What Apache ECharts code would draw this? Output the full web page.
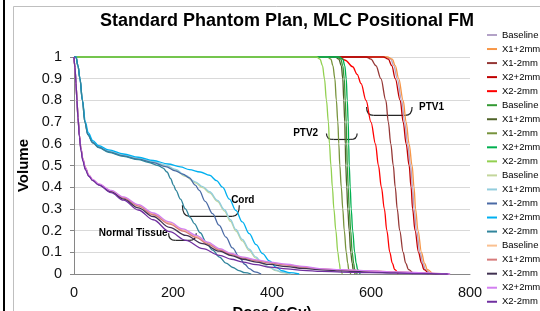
<!DOCTYPE html>
<html>
<head>
<meta charset="utf-8">
<script src="https://cdn.jsdelivr.net/npm/echarts@6/dist/echarts.min.js"></script>
<style>
html, body { margin: 0; padding: 0; background: #fff; }
#chart { width: 540px; height: 311px; }
</style>
</head>
<body>
<div id="chart"></div>
<script>
// dose (cGy), volume fraction pairs
const ptv1Baseline = [[0,1],[630,1],[640,0.99],[646,0.96],[653,0.9],[662,0.8],[668,0.7],[674,0.6],[680,0.5],[684,0.4],[687,0.3],[692,0.2],[699,0.1],[705,0.05],[710,0.02],[720,0]];
const ptv1X1p = [[0,1],[633,1],[643,0.99],[649,0.96],[656,0.9],[665,0.8],[671,0.7],[677,0.6],[683,0.5],[687,0.4],[690,0.3],[695,0.2],[702,0.1],[708,0.05],[714,0.02],[724,0]];
const ptv1X1m = [[0,1],[590,1],[600,0.99],[610,0.96],[620,0.9],[630,0.8],[635,0.7],[640,0.6],[645,0.5],[649,0.4],[653,0.3],[658,0.2],[665,0.1],[670,0.05],[676,0.02],[685,0]];
const ptv1X2p = [[0,1],[625,1],[635,0.99],[642,0.96],[649,0.9],[659,0.8],[665,0.7],[671,0.6],[677,0.5],[681,0.4],[684,0.3],[689,0.2],[696,0.1],[702,0.05],[707,0.02],[716,0]];
const ptv1X2m = [[0,1],[535,1],[548,0.985],[563,0.955],[572,0.92],[580,0.877],[590,0.8],[600,0.7],[609,0.6],[615,0.5],[621,0.4],[627,0.3],[632,0.2],[638,0.1],[643,0.05],[648,0.02],[655,0]];

const ptv2Baseline = [[0,1],[532,1],[539,0.99],[543,0.96],[546,0.9],[548,0.8],[550,0.7],[551,0.6],[552,0.5],[554,0.4],[556,0.3],[559,0.2],[562,0.1],[565,0.05],[567,0.02],[572,0]];
const ptv2X1p = [[0,1],[528,1],[535,0.99],[540,0.96],[543,0.9],[545,0.8],[547,0.7],[548,0.6],[549,0.5],[551,0.4],[553,0.3],[556,0.2],[559,0.1],[562,0.05],[564,0.02],[568,0]];
const ptv2X1m = [[0,1],[512,1],[519,0.99],[523,0.96],[527,0.9],[530,0.8],[533,0.7],[535,0.6],[537,0.5],[540,0.4],[543,0.3],[546,0.2],[550,0.1],[553,0.05],[555,0.02],[559,0]];
const ptv2X2p = [[0,1],[536,1],[543,0.99],[547,0.96],[550,0.9],[552,0.8],[554,0.7],[555,0.6],[556,0.5],[558,0.4],[560,0.3],[563,0.2],[567,0.1],[570,0.05],[573,0.02],[578,0]];
const ptv2X2m = [[0,1],[490,1],[497,0.99],[502,0.96],[506,0.9],[510,0.8],[514,0.7],[516,0.6],[519,0.5],[522,0.4],[525,0.3],[529,0.2],[533,0.1],[536,0.05],[538,0.02],[542,0]];

const cordBaseline = [[0,1],[4,1],[8,0.96],[12,0.9],[17,0.8],[22,0.7],[28,0.645],[38,0.608],[50,0.586],[70,0.565],[100,0.546],[130,0.531],[160,0.516],[185,0.499],[205,0.479],[225,0.45],[245,0.42],[260,0.398],[274,0.374],[290,0.334],[304,0.29],[316,0.243],[327,0.198],[340,0.153],[354,0.108],[367,0.074],[381,0.047],[395,0.029],[408,0.016],[420,0.007],[435,0]];
const cordX1p = [[0,1],[4,1],[8,0.96],[12,0.9],[17,0.8],[22,0.7],[28,0.646],[38,0.61],[50,0.588],[70,0.567],[100,0.548],[130,0.533],[160,0.518],[185,0.502],[205,0.482],[225,0.454],[245,0.425],[260,0.403],[274,0.379],[290,0.339],[304,0.296],[316,0.25],[327,0.205],[340,0.16],[354,0.114],[367,0.079],[381,0.05],[395,0.031],[408,0.018],[420,0.009],[438,0]];
const cordX1m = [[0,1],[4,1],[8,0.96],[12,0.9],[17,0.8],[22,0.7],[28,0.643],[38,0.606],[50,0.584],[70,0.563],[100,0.544],[130,0.529],[160,0.513],[185,0.495],[205,0.475],[220,0.46],[233,0.443],[245,0.41],[253,0.385],[265,0.335],[280,0.278],[293,0.225],[307,0.17],[320,0.12],[334,0.078],[345,0.045],[354,0.025],[365,0.01],[378,0]];
const cordX2p = [[0,1],[4,1],[8,0.96],[12,0.9],[17,0.8],[23,0.7],[29,0.65],[38,0.615],[50,0.592],[70,0.572],[100,0.553],[130,0.538],[160,0.523],[190,0.507],[215,0.494],[233,0.481],[255,0.47],[274,0.455],[288,0.43],[300,0.4],[314,0.345],[327,0.293],[340,0.24],[354,0.186],[368,0.135],[381,0.094],[395,0.06],[408,0.032],[420,0.015],[435,0.006],[455,0]];
const cordX2m = [[0,1],[4,1],[8,0.96],[12,0.9],[17,0.8],[22,0.7],[28,0.641],[38,0.604],[50,0.582],[70,0.561],[100,0.542],[130,0.527],[150,0.515],[170,0.5],[180,0.488],[188,0.47],[195,0.44],[201,0.41],[206,0.385],[215,0.345],[225,0.3],[235,0.26],[243,0.232],[255,0.19],[267,0.147],[280,0.11],[294,0.078],[307,0.05],[321,0.03],[333,0.016],[345,0.006],[358,0]];

const ntBaseline = [[0,1],[2,0.95],[4,0.88],[6,0.8],[8,0.72],[11,0.64],[14,0.58],[18,0.53],[23,0.49],[30,0.455],[38,0.434],[50,0.414],[75,0.384],[100,0.353],[130,0.317],[160,0.277],[193,0.235],[220,0.203],[247,0.173],[270,0.143],[294,0.114],[318,0.092],[341,0.076],[368,0.063],[395,0.053],[430,0.043],[462,0.033],[496,0.024],[540,0.019],[597,0.014],[650,0.0095],[697,0.0055],[730,0.0025],[758,0]];
const ntX1p = [[0,1],[2,0.95],[4,0.88],[6,0.8],[8,0.72],[11,0.64],[14,0.58],[18,0.53],[23,0.49],[30,0.455],[38,0.433],[50,0.413],[75,0.382],[100,0.35],[130,0.313],[160,0.273],[193,0.23],[220,0.198],[247,0.168],[270,0.138],[294,0.11],[318,0.09],[341,0.073],[368,0.061],[395,0.051],[430,0.041],[462,0.032],[496,0.023],[540,0.018],[597,0.013],[650,0.009],[697,0.005],[730,0.002],[758,0]];
const ntX1m = [[0,1],[2,0.95],[4,0.88],[6,0.8],[8,0.72],[11,0.635],[14,0.575],[18,0.525],[23,0.485],[30,0.452],[38,0.431],[50,0.411],[75,0.378],[100,0.345],[130,0.305],[160,0.265],[193,0.215],[226,0.178],[260,0.14],[294,0.105],[318,0.085],[341,0.068],[368,0.055],[395,0.044],[430,0.034],[462,0.026],[500,0.019],[540,0.014],[597,0.009],[650,0.006],[700,0.003],[740,0.001],[758,0]];
const ntX2p = [[0,1],[2,0.95],[4,0.88],[6,0.8],[8,0.72],[11,0.64],[14,0.58],[18,0.53],[23,0.49],[30,0.456],[38,0.435],[50,0.415],[75,0.385],[100,0.355],[130,0.32],[160,0.281],[193,0.24],[220,0.208],[247,0.178],[270,0.147],[294,0.117],[318,0.095],[341,0.078],[368,0.065],[395,0.055],[430,0.045],[462,0.035],[496,0.025],[540,0.02],[597,0.015],[650,0.01],[697,0.006],[730,0.003],[760,0]];
const ntX2m = [[0,1],[2,0.95],[4,0.88],[6,0.8],[8,0.72],[11,0.63],[14,0.57],[18,0.52],[23,0.48],[30,0.45],[38,0.43],[50,0.41],[75,0.375],[100,0.34],[130,0.295],[160,0.25],[193,0.195],[226,0.155],[260,0.117],[294,0.086],[318,0.068],[341,0.055],[368,0.043],[395,0.032],[430,0.024],[462,0.017],[500,0.012],[540,0.009],[597,0.006],[650,0.004],[700,0.002],[740,0.001],[755,0]];

// group|label, the part after | is what the legend shows
const seriesNames = [
	"PTV1|Baseline", "PTV1|X1+2mm", "PTV1|X1-2mm", "PTV1|X2+2mm", "PTV1|X2-2mm",
	"PTV2|Baseline", "PTV2|X1+2mm", "PTV2|X1-2mm", "PTV2|X2+2mm", "PTV2|X2-2mm",
	"Cord|Baseline", "Cord|X1+2mm", "Cord|X1-2mm", "Cord|X2+2mm", "Cord|X2-2mm",
	"NT|Baseline", "NT|X1+2mm", "NT|X1-2mm", "NT|X2+2mm", "NT|X2-2mm"
];
const seriesData = [
	ptv1Baseline, ptv1X1p, ptv1X1m, ptv1X2p, ptv1X2m,
	ptv2Baseline, ptv2X1p, ptv2X1m, ptv2X2p, ptv2X2m,
	cordBaseline, cordX1p, cordX1m, cordX2p, cordX2m,
	ntBaseline, ntX1p, ntX1m, ntX2p, ntX2m
];
const seriesColors = [
	"#B3A2C7", "#F79646", "#953735", "#C00000", "#FF0000",
	"#339933", "#4F6228", "#77933C", "#00B050", "#92D050",
	"#C3D69B", "#93CDDD", "#4A6AA5", "#00B0F0", "#31859C",
	"#FAC090", "#D77B7B", "#403151", "#D27FF0", "#7030A0"
];

const doseMin = 0, doseMax = 800, doseStep = 200;
const volMin = 0, volMax = 1, volStep = 0.1;

// annotation braces, in data units (dose, volume)
const braces = [
	{ from: 591, to: 683, top: 0.77, bottom: 0.731 },
	{ from: 510, to: 572, top: 0.648, bottom: 0.62 },
	{ from: 219, to: 334, top: 0.317, bottom: 0.266 },
	{ from: 191, to: 247, top: 0.188, bottom: 0.155 }
];
const notes = [
	{ text: "PTV1", dose: 697, vol: 0.768, align: "left" },
	{ text: "PTV2", dose: 468, vol: 0.648, align: "center" },
	{ text: "Cord", dose: 341, vol: 0.34, align: "center" },
	{ text: "Normal Tissue", dose: 189, vol: 0.188, align: "right" }
];

const FONT = '"Liberation Sans", Arial, sans-serif';
const chart = echarts.init(document.getElementById("chart"), null, { renderer: "canvas" });

chart.setOption({
	animation: false,
	backgroundColor: "#fff",
	title: {
		text: "Standard Phantom Plan, MLC Positional FM",
		left: 100,
		top: 11,
		padding: 0,
		textStyle: { fontFamily: FONT, fontSize: 18, fontWeight: "bold", color: "#000", lineHeight: 20 }
	},
	grid: { left: 74, right: 70, top: 57, bottom: 37, outerBoundsMode: "none", containLabel: false },
	legend: {
		orient: "vertical",
		left: 487,
		top: 29,
		padding: 0,
		icon: "rect",
		itemWidth: 10,
		itemHeight: 2,
		itemGap: 2.04,
		data: seriesNames,
		formatter: (name) => name.split("|")[1],
		textStyle: { fontFamily: FONT, fontSize: 9.5, lineHeight: 12, color: "#000" }
	},
	xAxis: {
		type: "value",
		min: doseMin,
		max: doseMax,
		interval: doseStep,
		name: "Dose (cGy)",
		nameLocation: "middle",
		nameGap: 21,
		nameTextStyle: { fontFamily: FONT, fontSize: 15, fontWeight: "bold", color: "#000" },
		axisLine: { lineStyle: { color: "#868686" } },
		axisTick: { show: false },
		axisLabel: { fontFamily: FONT, fontSize: 14.5, color: "#111", margin: 11 },
		splitLine: { show: false }
	},
	yAxis: {
		type: "value",
		min: volMin,
		max: volMax,
		interval: volStep,
		name: "Volume",
		nameLocation: "middle",
		nameRotate: 90,
		nameGap: 41,
		nameTextStyle: { fontFamily: FONT, fontSize: 15, fontWeight: "bold", color: "#000" },
		axisLine: { show: true, lineStyle: { color: "#868686" } },
		axisTick: { show: true, length: 4, lineStyle: { color: "#868686" } },
		axisLabel: { fontFamily: FONT, fontSize: 14.5, color: "#111", margin: 12 },
		splitLine: { lineStyle: { color: "#D9D9D9" } }
	},
	series: seriesData.map((d, i) => ({
		type: "line",
		name: seriesNames[i],
		data: d,
		symbol: "none",
		showSymbol: false,
		smooth: 0.35,
		smoothMonotone: "x",
		clip: false,
		lineStyle: { width: 1.3, color: seriesColors[i] },
		itemStyle: { color: seriesColors[i] },
		emphasis: { disabled: true }
	}))
});

function px(dose, vol) {
	return chart.convertToPixel({ gridIndex: 0 }, [dose, vol]);
}

const graphics = [
	// frame lines of the original chart area
	{ type: "rect", shape: { x: 3, y: 0, width: 2, height: 311 }, style: { fill: "#000" }, silent: true },
	{ type: "line", shape: { x1: 13.5, y1: 6.5, x2: 540, y2: 6.5 }, style: { stroke: "#BFBFBF", lineWidth: 1 }, silent: true },
	{ type: "line", shape: { x1: 13.5, y1: 6.5, x2: 13.5, y2: 311 }, style: { stroke: "#BFBFBF", lineWidth: 1 }, silent: true }
];

const braceStyle = { stroke: "#262626", lineWidth: 1.2, fill: null };
braces.forEach((b) => {
	const [x1, yTop] = px(b.from, b.top);
	const [x2, yBot] = px(b.to, b.bottom);
	const r = Math.min(7, (x2 - x1) / 4);
	graphics.push({
		type: "bezierCurve",
		shape: { x1: x1, y1: yTop, cpx1: x1, cpy1: yBot, x2: x1 + r, y2: yBot },
		style: braceStyle, silent: true
	});
	graphics.push({
		type: "line",
		shape: { x1: x1 + r, y1: yBot, x2: x2 - r, y2: yBot },
		style: braceStyle, silent: true
	});
	graphics.push({
		type: "bezierCurve",
		shape: { x1: x2 - r, y1: yBot, cpx1: x2, cpy1: yBot, x2: x2, y2: yTop },
		style: braceStyle, silent: true
	});
});

notes.forEach((n) => {
	const [x, y] = px(n.dose, n.vol);
	graphics.push({
		type: "text",
		x: x,
		y: y,
		style: {
			text: n.text,
			fontFamily: FONT,
			fontSize: 10,
			fontWeight: "bold",
			fill: "#000",
			align: n.align,
			verticalAlign: "middle"
		},
		silent: true
	});
});

chart.setOption({ graphic: graphics });
</script>
</body>
</html>
